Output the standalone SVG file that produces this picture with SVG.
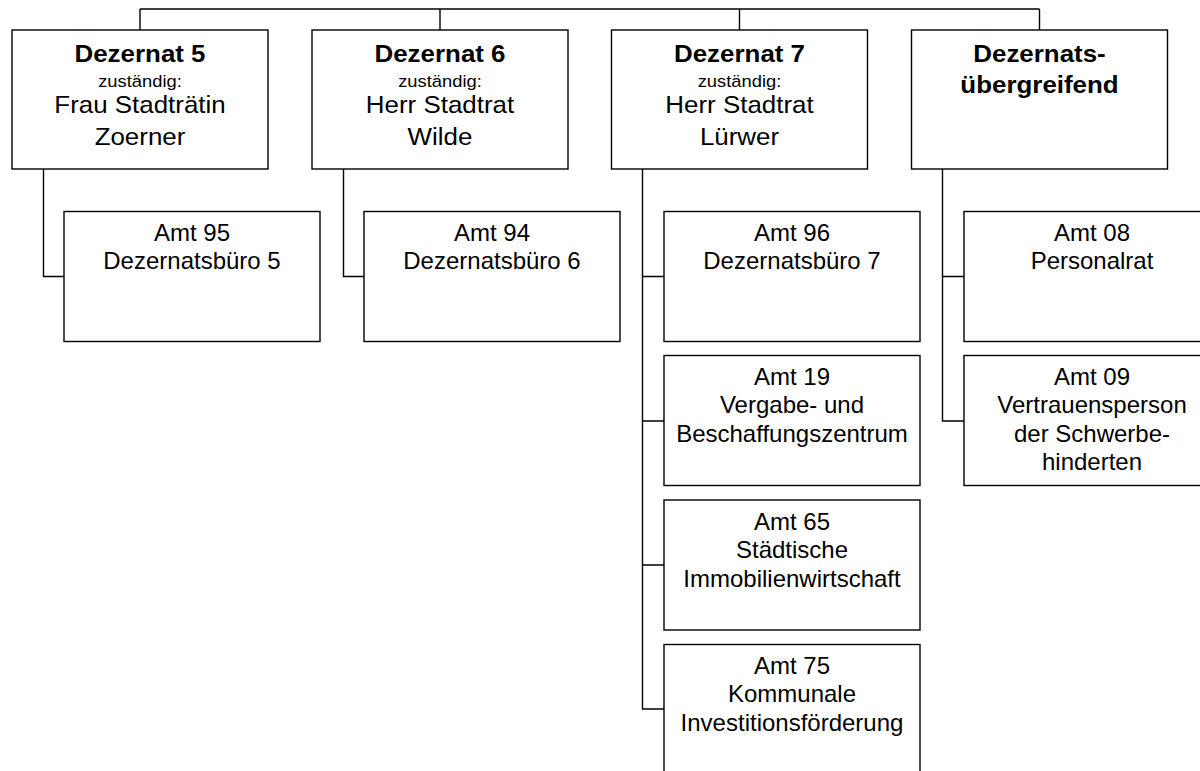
<svg xmlns="http://www.w3.org/2000/svg" width="1200" height="771" viewBox="0 0 1200 771">
  <style>
    .box { fill: #ffffff; stroke: #000000; stroke-width: 1.4; }
    .conn { fill: none; stroke: #000000; stroke-width: 1.4; }
    text { font-family: "Liberation Sans", Arial, sans-serif; fill: #000000; text-anchor: middle; }
    .h { font-size: 24px; font-weight: bold; }
    .s { font-size: 17px; }
    .p { font-size: 24px; }
    .a { font-size: 24px; }
  </style>
  <rect width="1200" height="771" fill="#ffffff"/>

  <g id="connectors">
    <path class="conn" d="M140,9 H1039.5 M140,9 V30 M440,9 V30 M739.5,9 V30 M1039.5,9 V30"/>
    <path class="conn" d="M43.5,169 V276.5 H64"/>
    <path class="conn" d="M343.5,169 V276.5 H364"/>
    <path class="conn" d="M642.5,169 V709 H664 M642.5,276.5 H664 M642.5,421 H664 M642.5,565 H664"/>
    <path class="conn" d="M942.5,169 V421 H964 M942.5,276.5 H964"/>
  </g>

  <g id="dezernat5">
    <rect class="box" x="12" y="30" width="256" height="139"/>
    <text class="h" transform="matrix(1.08 0 0 1 140 0)" x="0" y="62">Dezernat 5</text>
    <text class="s" transform="matrix(1.08 0 0 1 140 0)" x="0" y="87">zuständig:</text>
    <text class="p" transform="matrix(1.08 0 0 1 140 0)" x="0" y="113">Frau Stadträtin</text>
    <text class="p" transform="matrix(1.08 0 0 1 140 0)" x="0" y="145">Zoerner</text>
  </g>
  <g id="dezernat6">
    <rect class="box" x="312" y="30" width="256" height="139"/>
    <text class="h" transform="matrix(1.08 0 0 1 440 0)" x="0" y="62">Dezernat 6</text>
    <text class="s" transform="matrix(1.08 0 0 1 440 0)" x="0" y="87">zuständig:</text>
    <text class="p" transform="matrix(1.08 0 0 1 440 0)" x="0" y="113">Herr Stadtrat</text>
    <text class="p" transform="matrix(1.08 0 0 1 440 0)" x="0" y="145">Wilde</text>
  </g>
  <g id="dezernat7">
    <rect class="box" x="611.5" y="30" width="256" height="139"/>
    <text class="h" transform="matrix(1.08 0 0 1 739.5 0)" x="0" y="62">Dezernat 7</text>
    <text class="s" transform="matrix(1.08 0 0 1 739.5 0)" x="0" y="87">zuständig:</text>
    <text class="p" transform="matrix(1.08 0 0 1 739.5 0)" x="0" y="113">Herr Stadtrat</text>
    <text class="p" transform="matrix(1.08 0 0 1 739.5 0)" x="0" y="145">Lürwer</text>
  </g>
  <g id="dezernatsuebergreifend">
    <rect class="box" x="911.5" y="30" width="256" height="139"/>
    <text class="h" transform="matrix(1.08 0 0 1 1039.5 0)" x="0" y="62">Dezernats-</text>
    <text class="h" transform="matrix(1.08 0 0 1 1039.5 0)" x="0" y="93">übergreifend</text>
  </g>

  <g id="amt95">
    <rect class="box" x="64" y="211.5" width="256" height="130"/>
    <text class="a" x="192" y="241">Amt 95</text>
    <text class="a" x="192" y="269">Dezernatsbüro 5</text>
  </g>
  <g id="amt94">
    <rect class="box" x="364" y="211.5" width="256" height="130"/>
    <text class="a" x="492" y="241">Amt 94</text>
    <text class="a" x="492" y="269">Dezernatsbüro 6</text>
  </g>
  <g id="amt96">
    <rect class="box" x="664" y="211.5" width="256" height="130"/>
    <text class="a" x="792" y="241">Amt 96</text>
    <text class="a" x="792" y="269">Dezernatsbüro 7</text>
  </g>
  <g id="amt19">
    <rect class="box" x="664" y="355.5" width="256" height="130"/>
    <text class="a" x="792" y="385">Amt 19</text>
    <text class="a" x="792" y="413">Vergabe- und</text>
    <text class="a" x="792" y="442">Beschaffungszentrum</text>
  </g>
  <g id="amt65">
    <rect class="box" x="664" y="500" width="256" height="130"/>
    <text class="a" x="792" y="530">Amt 65</text>
    <text class="a" x="792" y="558">Städtische</text>
    <text class="a" x="792" y="587">Immobilienwirtschaft</text>
  </g>
  <g id="amt75">
    <rect class="box" x="664" y="644.5" width="256" height="130"/>
    <text class="a" x="792" y="674">Amt 75</text>
    <text class="a" x="792" y="702">Kommunale</text>
    <text class="a" x="792" y="731">Investitionsförderung</text>
  </g>
  <g id="amt08">
    <rect class="box" x="964" y="211.5" width="256" height="130"/>
    <text class="a" x="1092" y="241">Amt 08</text>
    <text class="a" x="1092" y="269">Personalrat</text>
  </g>
  <g id="amt09">
    <rect class="box" x="964" y="355.5" width="256" height="130"/>
    <text class="a" x="1092" y="385">Amt 09</text>
    <text class="a" x="1092" y="413">Vertrauensperson</text>
    <text class="a" x="1092" y="442">der Schwerbe-</text>
    <text class="a" x="1092" y="470">hinderten</text>
  </g>
</svg>
